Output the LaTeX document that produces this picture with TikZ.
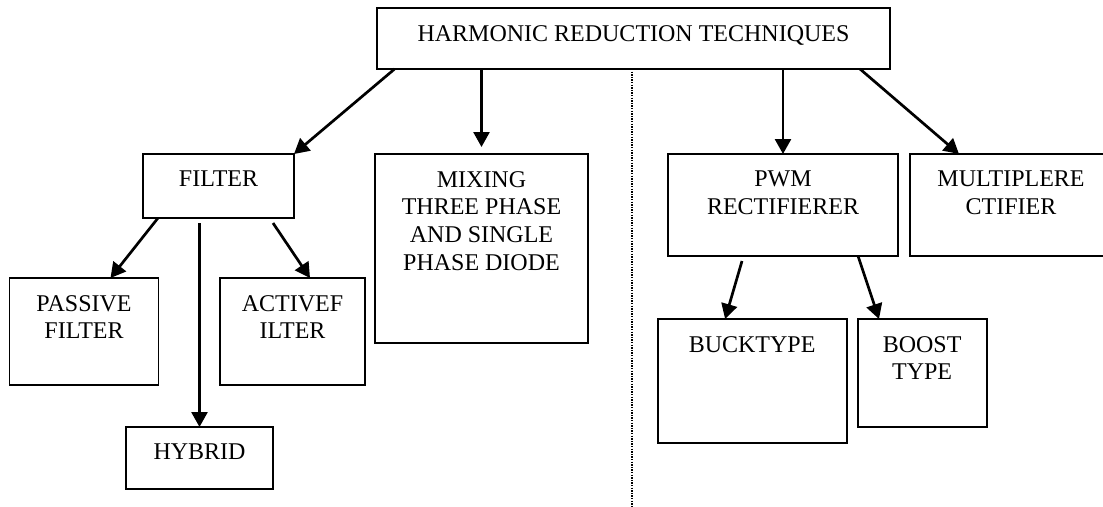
\documentclass[tikz,border=0pt]{standalone}
\usepackage{fontspec}
\setmainfont{Liberation Serif}
\usetikzlibrary{arrows.meta}
\tikzset{
  box/.style={draw, line width=1.8pt, anchor=north west, inner sep=0pt, outer sep=0pt},
  lbl/.style={anchor=north, inner sep=0pt, align=center, font=\fontsize{24}{27.7}\selectfont},
  arr/.style={line width=2.7pt, -{Triangle[length=15pt,width=16pt]}},
  sep/.style={line width=1.4pt, dash pattern=on 1.3pt off 1.3pt}
}
\begin{document}
\begin{tikzpicture}[x=1pt,y=-1pt]
\fill[white] (0,0) rectangle (1103,506);
\clip (0,0) rectangle (1103,506);
% boxes
\node[box, minimum width=513pt, minimum height=61pt] (top) at (377,8) {};
\node[box, minimum width=151pt, minimum height=64pt] (filter) at (143,154) {};
\node[box, minimum width=213pt, minimum height=189pt] (mixing) at (375,154) {};
\node[box, minimum width=230pt, minimum height=102pt] (pwm) at (668,154) {};
\node[box, minimum width=202pt, minimum height=102pt] (multi) at (910,154) {};
\node[box, minimum width=149pt, minimum height=107pt] (passive) at (9.5,278) {};
\node[box, minimum width=145pt, minimum height=107pt] (active) at (220,278) {};
\node[box, minimum width=147pt, minimum height=62pt] (hybrid) at (126,427) {};
\node[box, minimum width=189pt, minimum height=124pt] (buck) at (657.6,319) {};
\node[box, minimum width=129pt, minimum height=108pt] (boost) at (857.6,319) {};
% labels
\node[lbl] (tTop) at ([yshift=-17pt]top.north) {HARMONIC REDUCTION TECHNIQUES};
\node[lbl] (tFilter) at ([yshift=-17pt]filter.north) {FILTER};
\node[lbl] (tMixing) at ([yshift=-17pt]mixing.north) {MIXING\\THREE PHASE\\AND SINGLE\\PHASE DIODE};
\node[lbl] (tPwm) at ([yshift=-17pt]pwm.north) {PWM\\RECTIFIERER};
\node[lbl] (tMulti) at ([yshift=-17pt]multi.north) {MULTIPLERE\\CTIFIER};
\node[lbl] (tPassive) at ([yshift=-17pt]passive.north) {PASSIVE\\FILTER};
\node[lbl] (tActive) at ([yshift=-17pt]active.north) {ACTIVEF\\ILTER};
\node[lbl] (tHybrid) at ([yshift=-17pt]hybrid.north) {HYBRID};
\node[lbl] (tBuck) at ([yshift=-17pt]buck.north) {BUCKTYPE};
\node[lbl] (tBoost) at ([yshift=-17pt]boost.north) {BOOST\\TYPE};
% separator
\coordinate (dA) at ([xshift=-1.5pt]top.south);
\coordinate (dB) at (632,506);
\draw[sep] (dA) -- (dB);
% connectors
\draw[arr] ([xshift=17.6pt]top.south west) -- (filter.north east);
\draw[arr] (top.south -| mixing.north) -- ([yshift=7pt]mixing.north);
\draw[arr] (top.south -| pwm.north) -- (pwm.north);
\draw[arr] ([xshift=-30pt]top.south east) -- ([xshift=49pt]multi.north west);
\draw[arr] ([xshift=15pt]filter.south west) -- ([xshift=26.5pt]passive.north);
\draw[arr] ([yshift=-5pt]filter.south -| hybrid.north) -- (hybrid.north);
\draw[arr] ([xshift=-21pt,yshift=-5pt]filter.south east) -- ([xshift=17.5pt]active.north);
\draw[arr] ([xshift=74pt,yshift=-5pt]pwm.south west) -- ([xshift=-27pt]buck.north);
\draw[arr] ([xshift=-40pt]pwm.south east) -- ([xshift=21.4pt]boost.north west);
\end{tikzpicture}
\end{document}
